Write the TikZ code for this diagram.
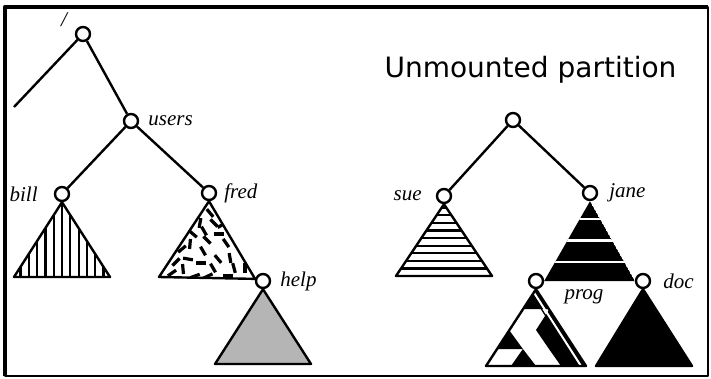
\documentclass[tikz,border=0pt]{standalone}
\usepackage{fontspec}
\newfontfamily\titlefont{DejaVu Sans}
\newfontfamily\labelfont{Liberation Serif}
\usetikzlibrary{positioning}

\begin{document}
\begin{tikzpicture}[x=1pt, y=-1pt, line join=round,
    fsnode/.style={circle, draw, line width=2.4pt, fill=white, minimum size=14pt, inner sep=0pt},
    fslabel/.style={font=\fontsize{21}{25}\labelfont\itshape, inner sep=0pt},
    branch/.style={line width=2.4pt},
    outline/.style={line width=2.4pt},
    hatch/.style={line width=2.2pt},
    dashmark/.style={line width=3.2pt}
]

% Colores
\definecolor{helpgray}{RGB}{181,181,181}

\useasboundingbox (0,0) rectangle (711,378);

% Marco
\draw[line width=2.5pt] (5,7) rectangle (708,376);
\draw[line width=4.5pt] (5,376) -- (5,7) -- (708,7);

% ============ Arbol montado (izquierda) ============
\node[fsnode] (root) at (83,34) {};
\node[fsnode] (users) at (131,121) {};
\node[fsnode] (bill) at (62,194) {};
\node[fsnode] (fred) at (209,193) {};
\node[fsnode] (help) at (263,281) {};
\coordinate (up) at (14,107);

\draw[branch] (root) -- (up);
\draw[branch] (root) -- (users);
\draw[branch] (users) -- (bill);
\draw[branch] (users) -- (fred);

% bill: rayas verticales
\begin{scope}
    \clip (bill.south) -- (14,277) -- (110,277) -- cycle;
    \foreach \xs in {20.5,28.8,...,104} \draw[hatch] (\xs,190) -- (\xs,285);
\end{scope}
\draw[outline] (bill.south) -- (14,277) -- (110,277) -- cycle;

% fred: trazos sueltos
\begin{scope}
    \clip (fred.south) -- (159,277) -- (help.165) -- cycle;
    \foreach \x/\y/\a in {210/213/50, 200/223/100, 214/223/45, 219/234/0,
        193/234/40, 207/240/45, 190/244/95, 226/243/55, 203/251/60,
        182/249/-40, 188/259/10, 218/259/50, 230/258/80, 201/263/0,
        183/269/85, 172/273/-35, 213/268/60, 234/268/75, 228/276/0,
        195/276/-20, 241/252/60, 204/231/60, 222/225/-30, 176/262/-45,
        245/268/90, 208/276/-25}
        \draw[dashmark] (\x,\y) ++(\a:-5) -- ++(\a:10);
\end{scope}
\draw[outline] (fred.south) -- (159,277) -- (help.165) -- cycle;

% help: relleno gris
\draw[outline, fill=helpgray] (help.south) -- (215,364) -- (311,364) -- cycle;

% Etiquetas
\node[fslabel] at (64,20) {/};
\node[fslabel, right=9pt of users] {users};
\node[fslabel, left=16pt of bill] {bill};
\node[fslabel, right=7pt of fred] {fred};
\node[fslabel, right=9pt of help] {help};

% ============ Particion sin montar (derecha) ============
\node[font=\fontsize{28}{34}\selectfont\titlefont, anchor=base] (title) at (530.5,77) {Unmounted partition};

\node[fsnode] (rootB) at (513,120) {};
\node[fsnode] (sue) at (444,196) {};
\node[fsnode] (jane) at (590,193) {};
\node[fsnode] (prog) at (536,281) {};
\node[fsnode] (doc) at (643,281) {};

\draw[branch] (rootB) -- (sue);
\draw[branch] (rootB) -- (jane);

% sue: rayas horizontales
\begin{scope}
    \clip (sue.south) -- (396,276) -- (492,276) -- cycle;
    \foreach \k in {1,...,9} \draw[hatch] (380,276-\k*7.6) -- (510,276-\k*7.6);
\end{scope}
\draw[outline] (sue.south) -- (396,276) -- (492,276) -- cycle;

% jane: negro con franjas blancas
\begin{scope}
    \clip (jane.south) -- (prog.east) -- (doc.west) -- cycle;
    \fill (jane.south) -- (prog.east) -- (doc.west) -- cycle;
    \foreach \ys in {219,240.5,262} \draw[white, line width=2.5pt] (520,\ys) -- (660,\ys);
\end{scope}

% prog: mosaico de triangulos
\begin{scope}
    \clip (prog.south) -- (486,366) -- (586,366) -- cycle;
    \fill (536,288) -- (522.5,309) -- (549.5,309) -- cycle;
    \fill (549.5,309) -- (536,330) -- (549,349) -- (561,366) -- (590,366) -- (590,309) -- cycle;
    \fill (509.1,330) -- (496.9,349) -- (522.9,349) -- cycle;
    \fill (522.9,349) -- (511,366) -- (536,366) -- cycle;
    \draw[white, line width=2pt] ([shift={(-3,1.9)}]prog.south) -- ++(50,78);
    \draw[line width=1.3pt] ([shift={(-5.2,3.3)}]prog.south) -- ++(50,78);
\end{scope}
\draw[outline] (prog.south) -- (486,366) -- (586,366) -- cycle;

% doc: negro
\filldraw[outline] (doc.south) -- (596,366) -- (692,366) -- cycle;

% Etiquetas
\node[fslabel, left=14pt of sue] {sue};
\node[fslabel, right=11pt of jane] {jane};
\node[fslabel] at (584,297) {prog};
\node[fslabel, right=12pt of doc] {doc};

\end{tikzpicture}
\end{document}
